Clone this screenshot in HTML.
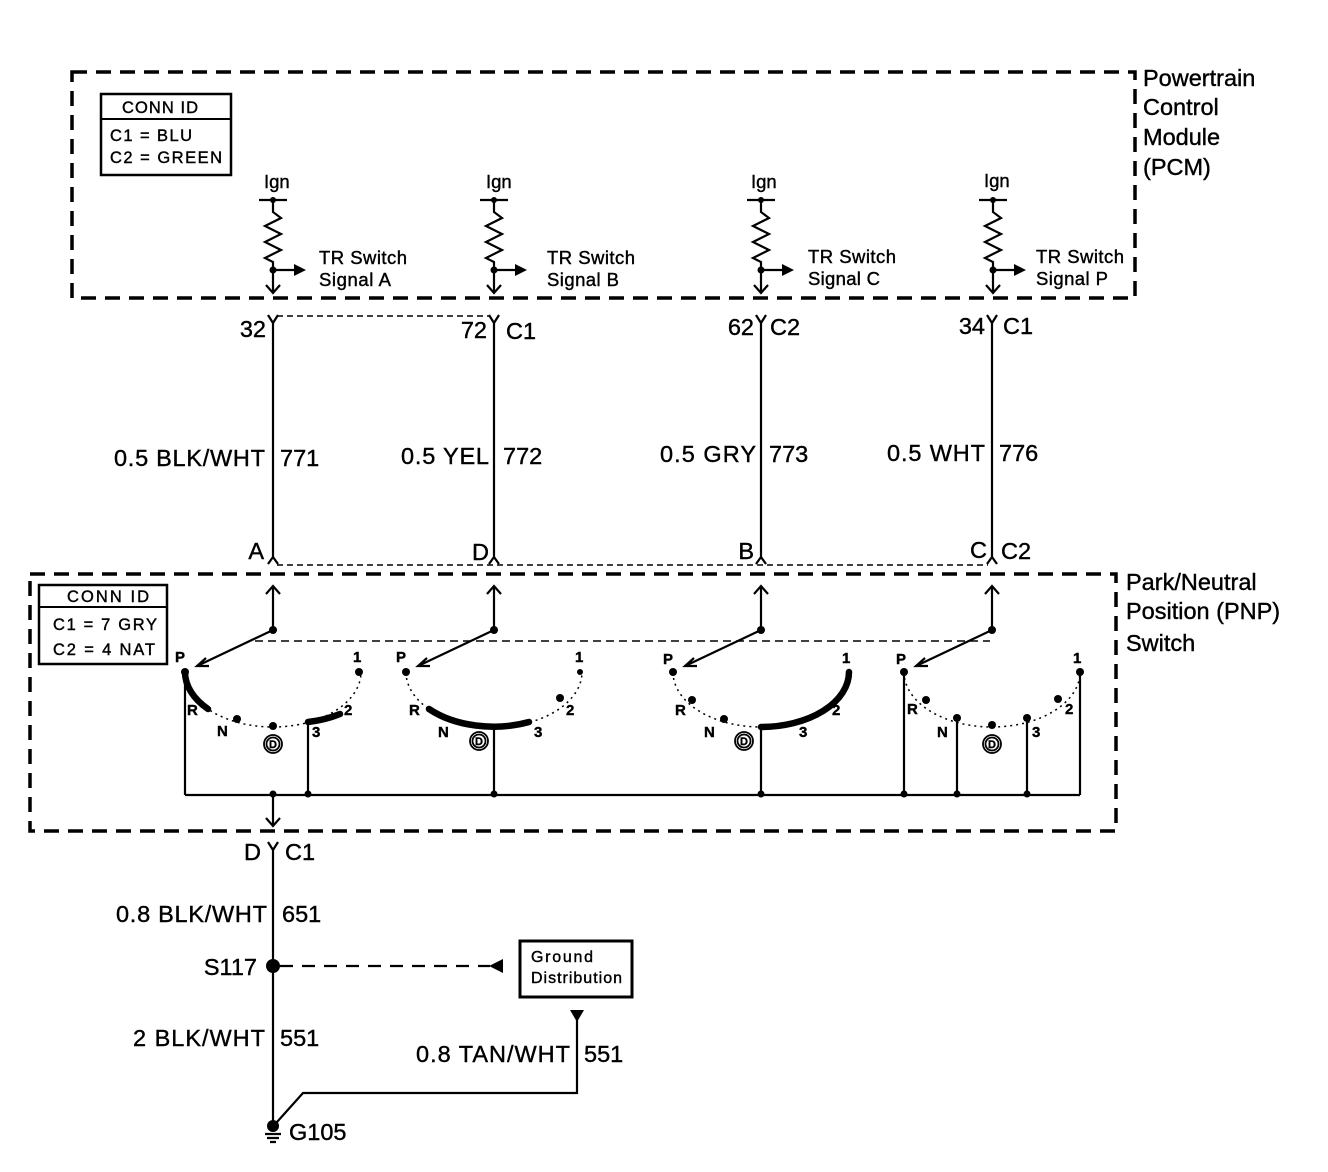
<!DOCTYPE html>
<html><head><meta charset="utf-8"><style>
html,body{margin:0;padding:0;background:#fff}
svg{display:block}
text{font-family:"Liberation Sans",Arial,sans-serif;fill:#000;stroke:#000;stroke-width:0.4}
</style></head><body>
<svg width="1328" height="1172" viewBox="0 0 1328 1172" xmlns="http://www.w3.org/2000/svg">
<g fill="none" stroke="#000">
<rect x="72" y="72" width="1063" height="226" stroke-width="3.5" stroke-dasharray="15 9"/>
<rect x="101" y="94" width="130" height="81" stroke-width="2.5"/>
<line x1="101" y1="119" x2="231" y2="119" stroke-width="2"/>
<rect x="30" y="574" width="1086" height="257" stroke-width="3.5" stroke-dasharray="15 9"/>
<rect x="39" y="585" width="128" height="79" stroke-width="2.5"/>
<line x1="39" y1="607" x2="167" y2="607" stroke-width="2"/>
<line x1="277" y1="316" x2="490" y2="316" stroke-width="1.5" stroke-dasharray="6 4"/>
<line x1="277" y1="565" x2="988" y2="565" stroke-width="1.5" stroke-dasharray="6 4"/>
<line x1="255" y1="641" x2="990" y2="641" stroke-width="1.5" stroke-dasharray="8 5"/>
</g>
<g font-size="16.5">
<text x="122" y="113" textLength="76">CONN ID</text>
<text x="110" y="141" textLength="82">C1 = BLU</text>
<text x="110" y="163" textLength="112">C2 = GREEN</text>
<text x="67" y="602" textLength="82">CONN ID</text>
<text x="53" y="630" textLength="104">C1 = 7 GRY</text>
<text x="53" y="655" textLength="102">C2 = 4 NAT</text>
</g>
<g font-size="23.5">
<text x="1143" y="86">Powertrain</text>
<text x="1143" y="115">Control</text>
<text x="1143" y="145">Module</text>
<text x="1143" y="175">(PCM)</text>
<text x="1126" y="590">Park/Neutral</text>
<text x="1126" y="619">Position (PNP)</text>
<text x="1126" y="651">Switch</text>
</g>

<g stroke="#000" stroke-width="2.2" fill="none">
<path d="M259 200H287 M273 200V212 l8 6 -16 8 16 8 -16 8 16 8 -16 8 8 4V292 M266 285l7 8 7-8 M273 270H296"/>
<path d="M480 200H508 M494 200V212 l8 6 -16 8 16 8 -16 8 16 8 -16 8 8 4V292 M487 285l7 8 7-8 M494 270H517"/>
<path d="M747 200H775 M761 200V212 l8 6 -16 8 16 8 -16 8 16 8 -16 8 8 4V292 M754 285l7 8 7-8 M761 270H784"/>
<path d="M979 200H1007 M993 200V212 l8 6 -16 8 16 8 -16 8 16 8 -16 8 8 4V292 M986 285l7 8 7-8 M993 270H1016"/>
</g>
<g fill="#000">
<circle cx="273" cy="200" r="3"/><circle cx="273" cy="270" r="3.5"/><path d="M294 264l12 6-12 6z"/>
<circle cx="494" cy="200" r="3"/><circle cx="494" cy="270" r="3.5"/><path d="M515 264l12 6-12 6z"/>
<circle cx="761" cy="200" r="3"/><circle cx="761" cy="270" r="3.5"/><path d="M782 264l12 6-12 6z"/>
<circle cx="993" cy="200" r="3"/><circle cx="993" cy="270" r="3.5"/><path d="M1014 264l12 6-12 6z"/>
</g>
<g font-size="18.5">
<text x="264" y="188">Ign</text><text x="486" y="188">Ign</text><text x="751" y="188">Ign</text><text x="984" y="187">Ign</text>
<text x="319" y="264" textLength="88">TR Switch</text><text x="319" y="286" textLength="72">Signal A</text>
<text x="547" y="264" textLength="88">TR Switch</text><text x="547" y="286" textLength="72">Signal B</text>
<text x="808" y="263" textLength="88">TR Switch</text><text x="808" y="285" textLength="72">Signal C</text>
<text x="1036" y="263" textLength="88">TR Switch</text><text x="1036" y="285" textLength="72">Signal P</text>
</g>

<g stroke="#000" stroke-width="2.2" fill="none">
<path d="M268 315l5 8 5-8 M273 323V558 M268 564l5-7 5 7"/>
<path d="M489 315l5 8 5-8 M494 323V558 M489 564l5-7 5 7"/>
<path d="M756 315l5 8 5-8 M761 323V558 M756 564l5-7 5 7"/>
<path d="M987 315l5 8 5-8 M992 323V558 M987 564l5-7 5 7"/>
</g>
<g font-size="23.5">
<text x="266" y="337" text-anchor="end">32</text>
<text x="487" y="338" text-anchor="end">72</text><text x="506" y="339">C1</text>
<text x="754" y="335" text-anchor="end">62</text><text x="770" y="335">C2</text>
<text x="985" y="334" text-anchor="end">34</text><text x="1003" y="334">C1</text>
<text x="265" y="466" text-anchor="end" textLength="151">0.5 BLK/WHT</text><text x="280" y="466">771</text>
<text x="489" y="464" text-anchor="end" textLength="88">0.5 YEL</text><text x="503" y="464">772</text>
<text x="756" y="462" text-anchor="end" textLength="96">0.5 GRY</text><text x="769" y="462">773</text>
<text x="985" y="461" text-anchor="end" textLength="98">0.5 WHT</text><text x="999" y="461">776</text>
<text x="264" y="559" text-anchor="end">A</text>
<text x="489" y="560" text-anchor="end">D</text>
<text x="754" y="559" text-anchor="end">B</text>
<text x="987" y="558" text-anchor="end">C</text><text x="1001" y="559">C2</text>
</g>

<g stroke="#000" fill="none">
<g stroke-width="2.2">
<path d="M273 630V586 M266 594l7-8 7 8 M273 630L197 666 M206 658l-9 8 12 0"/>
<path d="M494 630V586 M487 594l7-8 7 8 M494 630L418 666 M427 658l-9 8 12 0"/>
<path d="M761 630V586 M754 594l7-8 7 8 M761 630L685 666 M694 658l-9 8 12 0"/>
<path d="M992 630V586 M985 594l7-8 7 8 M992 630L916 666 M925 658l-9 8 12 0"/>
</g>
<g stroke-width="1.5" stroke-dasharray="2 4">
<path d="M185 672A88 55 0 0 0 361 672"/>
<path d="M406 672A88 55 0 0 0 582 672"/>
<path d="M673 672A88 55 0 0 0 849 672"/>
<path d="M904 672A88 55 0 0 0 1080 672"/>
</g>
<g stroke-width="6.5" stroke-linecap="round">
<path d="M185 672A88 55 0 0 0 208 709"/>
<path d="M308 722A88 55 0 0 0 340 714"/>
<path d="M429 709A88 55 0 0 0 529 722"/>
<path d="M761 727A88 55 0 0 0 849 672"/>
</g>
<g stroke-width="2.2">
<path d="M185 672V795 M308 722V795 M494 727V795 M761 727V795 M904 672V795 M957 722V795 M1027 722V795 M1080 672V795 M185 795H1080"/>
<path d="M273 795V825 M266 818l7 8 7-8"/>
</g>
<g stroke-width="1.8">
<circle cx="273" cy="744" r="9"/><circle cx="273" cy="744" r="6.5"/>
<circle cx="479" cy="741" r="9"/><circle cx="479" cy="741" r="6.5"/>
<circle cx="744" cy="741" r="9"/><circle cx="744" cy="741" r="6.5"/>
<circle cx="992" cy="744" r="9"/><circle cx="992" cy="744" r="6.5"/>
</g>
</g>
<g fill="#000">
<circle cx="273" cy="630" r="4"/><circle cx="494" cy="630" r="4"/><circle cx="761" cy="630" r="4"/><circle cx="992" cy="630" r="4"/>
<circle cx="185" cy="672" r="4"/><circle cx="237" cy="719" r="4"/><circle cx="273" cy="726" r="4"/><circle cx="359" cy="672" r="4"/>
<circle cx="406" cy="672" r="4"/><circle cx="560" cy="698" r="4"/><circle cx="580" cy="672" r="3"/>
<circle cx="673" cy="672" r="4"/><circle cx="692" cy="700" r="4"/><circle cx="724" cy="719" r="4"/>
<circle cx="904" cy="672" r="4"/><circle cx="926" cy="700" r="4"/><circle cx="957" cy="718" r="4"/><circle cx="992" cy="725" r="4"/><circle cx="1027" cy="718" r="4"/><circle cx="1058" cy="699" r="4"/><circle cx="1080" cy="672" r="4"/>
<circle cx="273" cy="794" r="3.5"/><circle cx="308" cy="794" r="3.5"/><circle cx="494" cy="794" r="3.5"/><circle cx="761" cy="794" r="3.5"/><circle cx="904" cy="794" r="3.5"/><circle cx="957" cy="794" r="3.5"/><circle cx="1027" cy="794" r="3.5"/>
</g>
<g font-size="15" font-weight="bold">
<text x="175" y="662">P</text><text x="353" y="662">1</text><text x="187" y="715">R</text><text x="217" y="736">N</text><text x="312" y="737">3</text><text x="344" y="715">2</text>
<text x="396" y="662">P</text><text x="575" y="662">1</text><text x="409" y="715">R</text><text x="438" y="737">N</text><text x="534" y="737">3</text><text x="566" y="715">2</text>
<text x="663" y="664">P</text><text x="842" y="663">1</text><text x="675" y="715">R</text><text x="704" y="737">N</text><text x="799" y="737">3</text><text x="832" y="715">2</text>
<text x="896" y="664">P</text><text x="1073" y="663">1</text><text x="907" y="714">R</text><text x="937" y="737">N</text><text x="1032" y="737">3</text><text x="1065" y="714">2</text>
</g>
<g font-size="11" font-weight="bold" text-anchor="middle">
<text x="273" y="748">D</text><text x="479" y="745">D</text><text x="744" y="745">D</text><text x="992" y="748">D</text>
</g>

<g stroke="#000" fill="none" stroke-width="2.2">
<path d="M268 842l5 8 5-8 M273 850V1125"/>
<path d="M280 966H490" stroke-dasharray="13 9"/>
<rect x="520" y="941" width="112" height="56" stroke-width="3"/>
<path d="M577 1015V1093H303L277 1122"/>
<path d="M265 1134H281 M267 1138H279 M270 1142H276"/>
</g>
<g fill="#000">
<circle cx="273" cy="966" r="7"/>
<path d="M503 959V973L489 966z"/>
<path d="M570 1010H584L577 1022z"/>
<circle cx="273" cy="1126" r="6"/>
</g>
<g font-size="23.5">
<text x="244" y="860">D</text><text x="285" y="860">C1</text>
<text x="267" y="922" text-anchor="end" textLength="151">0.8 BLK/WHT</text><text x="282" y="922">651</text>
<text x="257" y="975" text-anchor="end">S117</text>
<text x="265" y="1046" text-anchor="end" textLength="132">2 BLK/WHT</text><text x="280" y="1046">551</text>
<text x="570" y="1062" text-anchor="end" textLength="154">0.8 TAN/WHT</text><text x="584" y="1062">551</text>
<text x="289" y="1140">G105</text>
</g>
<g font-size="16">
<text x="531" y="962" textLength="62">Ground</text>
<text x="531" y="983" textLength="91">Distribution</text>
</g>
</svg>
</body></html>
